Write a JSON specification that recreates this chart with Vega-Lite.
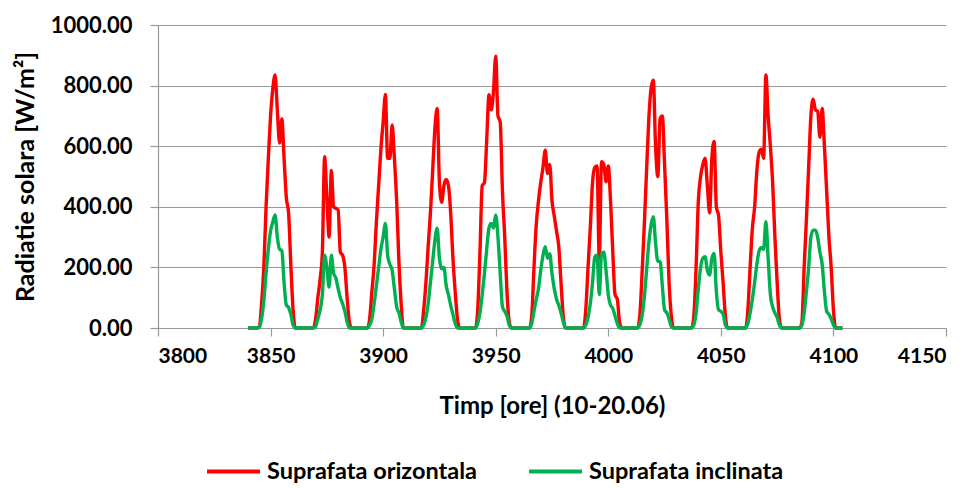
{
  "$schema": "https://vega.github.io/schema/vega-lite/v6.json",
  "width": 788,
  "height": 303,
  "autosize": {"type": "none"},
  "padding": {"left": 158, "top": 25, "right": 28, "bottom": 160},
  "background": "white",
  "config": {
    "font": "Lato",
    "view": {"stroke": null},
    "axis": {"labelFont": "Lato", "titleFont": "Lato", "labelFontWeight": "bold", "titleFontWeight": "bold", "labelColor": "#000", "titleColor": "#000", "labelFontSize": 21, "titleFontSize": 24, "domainColor": "#999", "tickColor": "#999", "gridColor": "#999", "domainWidth": 1.2, "tickWidth": 1.2, "gridWidth": 1.2}
  },
  "data": {"values": [
    {"t":3840,"o":0,"i":0},{"t":3844,"o":0,"i":0},{"t":3845,"o":5,"i":3},{"t":3846,"o":80,"i":30},{"t":3847,"o":200,"i":90},{"t":3848,"o":400,"i":180},{"t":3849,"o":560,"i":260},{"t":3850,"o":700,"i":320},{"t":3851,"o":790,"i":350},{"t":3852,"o":835,"i":373},{"t":3853,"o":720,"i":300},{"t":3854,"o":610,"i":260},{"t":3855,"o":690,"i":255},{"t":3856,"o":560,"i":150},{"t":3857,"o":430,"i":76},{"t":3858,"o":380,"i":68},{"t":3859,"o":208,"i":45},{"t":3860,"o":60,"i":10},{"t":3861,"o":0,"i":0},
    {"t":3869,"o":0,"i":0},{"t":3870,"o":30,"i":5},{"t":3871,"o":100,"i":30},{"t":3872,"o":160,"i":60},{"t":3873,"o":250,"i":110},{"t":3874,"o":565,"i":240},{"t":3875,"o":430,"i":200},{"t":3876,"o":300,"i":135},{"t":3877,"o":520,"i":240},{"t":3878,"o":400,"i":180},{"t":3879,"o":395,"i":165},{"t":3880,"o":390,"i":130},{"t":3881,"o":250,"i":100},{"t":3882,"o":240,"i":80},{"t":3883,"o":200,"i":55},{"t":3884,"o":100,"i":20},{"t":3885,"o":20,"i":0},{"t":3886,"o":0,"i":0},
    {"t":3893,"o":0,"i":0},{"t":3894,"o":30,"i":10},{"t":3895,"o":120,"i":30},{"t":3896,"o":210,"i":80},{"t":3897,"o":350,"i":140},{"t":3898,"o":470,"i":200},{"t":3899,"o":590,"i":260},{"t":3900,"o":680,"i":300},{"t":3901,"o":771,"i":345},{"t":3902,"o":560,"i":240},{"t":3903,"o":560,"i":210},{"t":3904,"o":670,"i":190},{"t":3905,"o":560,"i":130},{"t":3906,"o":420,"i":70},{"t":3907,"o":220,"i":50},{"t":3908,"o":80,"i":20},{"t":3909,"o":0,"i":0},
    {"t":3917,"o":0,"i":0},{"t":3918,"o":60,"i":10},{"t":3919,"o":150,"i":35},{"t":3920,"o":270,"i":80},{"t":3921,"o":380,"i":150},{"t":3922,"o":520,"i":220},{"t":3923,"o":660,"i":290},{"t":3924,"o":725,"i":329},{"t":3925,"o":480,"i":230},{"t":3926,"o":415,"i":195},{"t":3927,"o":470,"i":200},{"t":3928,"o":490,"i":140},{"t":3929,"o":470,"i":110},{"t":3930,"o":380,"i":75},{"t":3931,"o":230,"i":45},{"t":3932,"o":120,"i":15},{"t":3933,"o":30,"i":0},{"t":3934,"o":0,"i":0},
    {"t":3941,"o":0,"i":0},{"t":3942,"o":60,"i":15},{"t":3943,"o":250,"i":50},{"t":3944,"o":470,"i":110},{"t":3945,"o":480,"i":180},{"t":3946,"o":620,"i":260},{"t":3947,"o":770,"i":330},{"t":3948,"o":720,"i":345},{"t":3949,"o":780,"i":330},{"t":3950,"o":897,"i":373},{"t":3951,"o":700,"i":300},{"t":3952,"o":680,"i":180},{"t":3953,"o":450,"i":70},{"t":3954,"o":300,"i":55},{"t":3955,"o":120,"i":40},{"t":3956,"o":20,"i":10},{"t":3957,"o":0,"i":0},
    {"t":3965,"o":0,"i":0},{"t":3966,"o":40,"i":15},{"t":3967,"o":200,"i":55},{"t":3968,"o":340,"i":95},{"t":3969,"o":420,"i":130},{"t":3970,"o":480,"i":190},{"t":3971,"o":530,"i":240},{"t":3972,"o":587,"i":268},{"t":3973,"o":510,"i":230},{"t":3974,"o":540,"i":245},{"t":3975,"o":420,"i":180},{"t":3976,"o":370,"i":130},{"t":3977,"o":320,"i":95},{"t":3978,"o":270,"i":75},{"t":3979,"o":150,"i":50},{"t":3980,"o":40,"i":20},{"t":3981,"o":0,"i":0},
    {"t":3989,"o":0,"i":0},{"t":3990,"o":60,"i":10},{"t":3991,"o":200,"i":35},{"t":3992,"o":330,"i":80},{"t":3993,"o":480,"i":150},{"t":3994,"o":530,"i":235},{"t":3995,"o":535,"i":240},{"t":3996,"o":230,"i":110},{"t":3997,"o":549,"i":246},{"t":3998,"o":540,"i":250},{"t":3999,"o":483,"i":190},{"t":4000,"o":535,"i":110},{"t":4001,"o":420,"i":75},{"t":4002,"o":250,"i":65},{"t":4003,"o":110,"i":40},{"t":4004,"o":95,"i":15},{"t":4005,"o":20,"i":0},{"t":4006,"o":0,"i":0},
    {"t":4013,"o":0,"i":0},{"t":4014,"o":40,"i":10},{"t":4015,"o":180,"i":40},{"t":4016,"o":340,"i":100},{"t":4017,"o":520,"i":190},{"t":4018,"o":690,"i":280},{"t":4019,"o":790,"i":340},{"t":4020,"o":818,"i":367},{"t":4021,"o":600,"i":280},{"t":4022,"o":500,"i":220},{"t":4023,"o":690,"i":220},{"t":4024,"o":700,"i":140},{"t":4025,"o":540,"i":60},{"t":4026,"o":360,"i":50},{"t":4027,"o":150,"i":30},{"t":4028,"o":40,"i":5},{"t":4029,"o":0,"i":0},
    {"t":4037,"o":0,"i":0},{"t":4038,"o":40,"i":10},{"t":4039,"o":200,"i":50},{"t":4040,"o":420,"i":130},{"t":4041,"o":500,"i":200},{"t":4042,"o":540,"i":230},{"t":4043,"o":560,"i":235},{"t":4044,"o":470,"i":190},{"t":4045,"o":380,"i":175},{"t":4046,"o":560,"i":230},{"t":4047,"o":616,"i":246},{"t":4048,"o":400,"i":120},{"t":4049,"o":370,"i":60},{"t":4050,"o":250,"i":55},{"t":4051,"o":150,"i":45},{"t":4052,"o":40,"i":10},{"t":4053,"o":0,"i":0},
    {"t":4061,"o":0,"i":0},{"t":4062,"o":60,"i":15},{"t":4063,"o":200,"i":50},{"t":4064,"o":330,"i":95},{"t":4065,"o":400,"i":150},{"t":4066,"o":520,"i":210},{"t":4067,"o":580,"i":255},{"t":4068,"o":590,"i":265},{"t":4069,"o":560,"i":260},{"t":4070,"o":835,"i":351},{"t":4071,"o":700,"i":230},{"t":4072,"o":600,"i":110},{"t":4073,"o":480,"i":70},{"t":4074,"o":300,"i":50},{"t":4075,"o":150,"i":35},{"t":4076,"o":30,"i":10},{"t":4077,"o":0,"i":0},
    {"t":4085,"o":0,"i":0},{"t":4086,"o":20,"i":10},{"t":4087,"o":200,"i":50},{"t":4088,"o":360,"i":120},{"t":4089,"o":530,"i":200},{"t":4090,"o":700,"i":300},{"t":4091,"o":755,"i":323},{"t":4092,"o":720,"i":323},{"t":4093,"o":715,"i":300},{"t":4094,"o":630,"i":250},{"t":4095,"o":725,"i":210},{"t":4096,"o":600,"i":120},{"t":4097,"o":450,"i":55},{"t":4098,"o":300,"i":45},{"t":4099,"o":200,"i":30},{"t":4100,"o":60,"i":10},{"t":4101,"o":0,"i":0},{"t":4104,"o":0,"i":0}
  ]},
  "transform": [
    {"fold": ["o", "i"], "as": ["k", "v"]}
  ],
  "mark": {"type": "line", "strokeWidth": 3.4, "interpolate": "monotone"},
  "encoding": {
    "x": {"field": "t", "type": "quantitative", "scale": {"domain": [3800, 4150], "nice": false, "zero": false},
      "axis": {"title": "Timp [ore] (10-20.06)", "values": [3800,3850,3900,3950,4000,4050,4100,4150], "format": "d", "grid": false, "tickSize": 8, "labelPadding": 9, "titlePadding": 28}},
    "y": {"field": "v", "type": "quantitative", "scale": {"domain": [0, 1000], "nice": false},
      "axis": {"title": "Radiatie solara [W/m²]", "titleFontSize": 25, "labelFontSize": 22, "values": [0,200,400,600,800,1000], "format": ".2f", "grid": true, "tickSize": 8, "labelPadding": 18, "titlePadding": 12}},
    "color": {"field": "k", "type": "nominal",
      "scale": {"domain": ["o", "i"], "range": ["#FF0000", "#00B050"]},
      "legend": {"title": null, "orient": "none", "direction": "horizontal", "legendX": 47, "legendY": 418,
        "labelExpr": "datum.value == 'o' ? 'Suprafata orizontala' : 'Suprafata inclinata'",
        "symbolType": "stroke", "symbolSize": 2800, "symbolStrokeWidth": 4, "labelFont": "Lato", "labelFontWeight": "bold", "labelFontSize": 23.5, "labelColor": "#000", "labelLimit": 400, "columnPadding": 44, "labelOffset": 5}}
  }
}
